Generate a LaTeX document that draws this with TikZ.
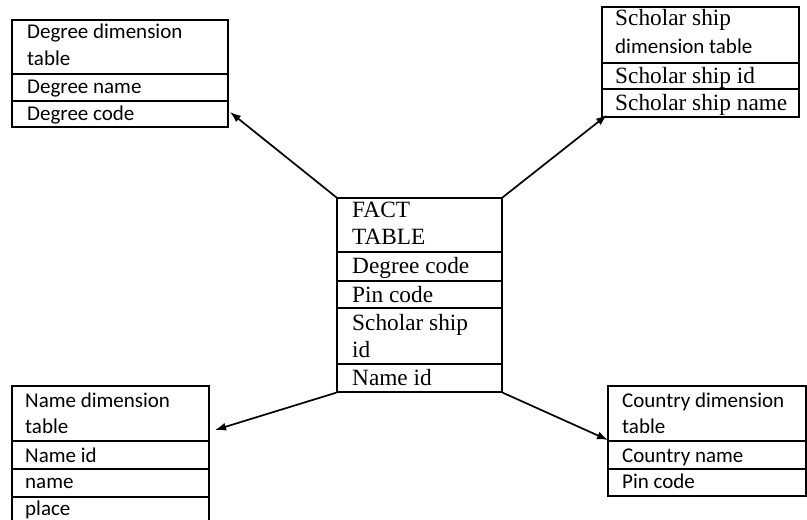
\documentclass[tikz,border=0pt]{standalone}
\usepackage{fontspec}
\setmainfont{Liberation Serif}
\newfontfamily\calib{Carlito}
\usetikzlibrary{arrows.meta}
\tikzset{
  tbl/.style={draw, line width=1.3pt, inner sep=0pt, fill=white},
  div/.style={line width=1.3pt},
  sans/.style={anchor=base west, inner sep=0pt, font=\calib\fontsize{21}{24}\selectfont},
  serif/.style={anchor=base west, inner sep=0pt, font=\fontsize{23.3}{26}\selectfont},
  arr/.style={line width=1.7pt, -{Latex[length=11pt,width=8pt]}}
}
\begin{document}
\begin{tikzpicture}[x=1pt,y=-1pt]
\useasboundingbox[fill=white] (0,0) rectangle (807,520);
% Degree dimension table
\node[tbl, minimum width=216pt, minimum height=107pt] (deg) at (120,73.5) {};
\draw[div] (12,74) -- (228,74) (12,101) -- (228,101);
\node[sans] (deg1) at (27,38) {Degree dimension};
\node[sans] (deg2) at (27,65) {table};
\node[sans] (deg3) at (27,93) {Degree name};
\node[sans] (deg4) at (27,120) {Degree code};
% Scholar ship dimension table
\node[tbl, minimum width=197pt, minimum height=110pt] (sch) at (700.5,62) {};
\draw[div] (602,63) -- (799,63) (602,89) -- (799,89);
\node[serif] (sch1) at (615,25) {Scholar ship};
\node[sans] (sch2) at (615,53) {dimension table};
\node[serif] (sch3) at (615,83) {Scholar ship id};
\node[serif] (sch4) at (615,110) {Scholar ship name};
% Fact table
\node[tbl, minimum width=165pt, minimum height=194pt] (fact) at (419.5,295) {};
\draw[div] (337,252) -- (502,252) (337,281) -- (502,281) (337,308) -- (502,308) (337,364) -- (502,364);
\node[serif] (f1) at (352,217) {FACT};
\node[serif] (f2) at (352,244) {TABLE};
\node[serif] (f3) at (352,273) {Degree code};
\node[serif] (f4) at (352,302) {Pin code};
\node[serif] (f5) at (352,330) {Scholar ship};
\node[serif] (f6) at (352,357) {id};
\node[serif] (f7) at (352,385) {Name id};
% Name dimension table
\node[tbl, minimum width=197pt, minimum height=144pt] (nam) at (110.5,458) {};
\draw[div] (12,441) -- (209,441) (12,469) -- (209,469) (12,497) -- (209,497);
\node[sans] (n1) at (25,407) {Name dimension};
\node[sans] (n2) at (25,433) {table};
\node[sans] (n3) at (25,462) {Name id};
\node[sans] (n4) at (25,488) {name};
\node[sans] (n5) at (25,515) {place};
% Country dimension table
\node[tbl, minimum width=198pt, minimum height=110pt] (cty) at (707,441) {};
\draw[div] (608,441) -- (806,441) (608,469) -- (806,469);
\node[sans] (c1) at (622,407) {Country dimension};
\node[sans] (c2) at (622,433) {table};
\node[sans] (c3) at (622,462) {Country name};
\node[sans] (c4) at (622,488) {Pin code};
% arrow tips
\coordinate (tdeg) at (230,112);
\coordinate (tsch) at (607,115);
\coordinate (tnam) at (215,430);
\coordinate (tcty) at (608,440);
\draw[arr] (fact.north west) -- (tdeg);
\draw[arr] (fact.north east) -- (tsch);
\draw[arr] (fact.south west) -- (tnam);
\draw[arr] (fact.south east) -- (tcty);
\end{tikzpicture}
\end{document}
